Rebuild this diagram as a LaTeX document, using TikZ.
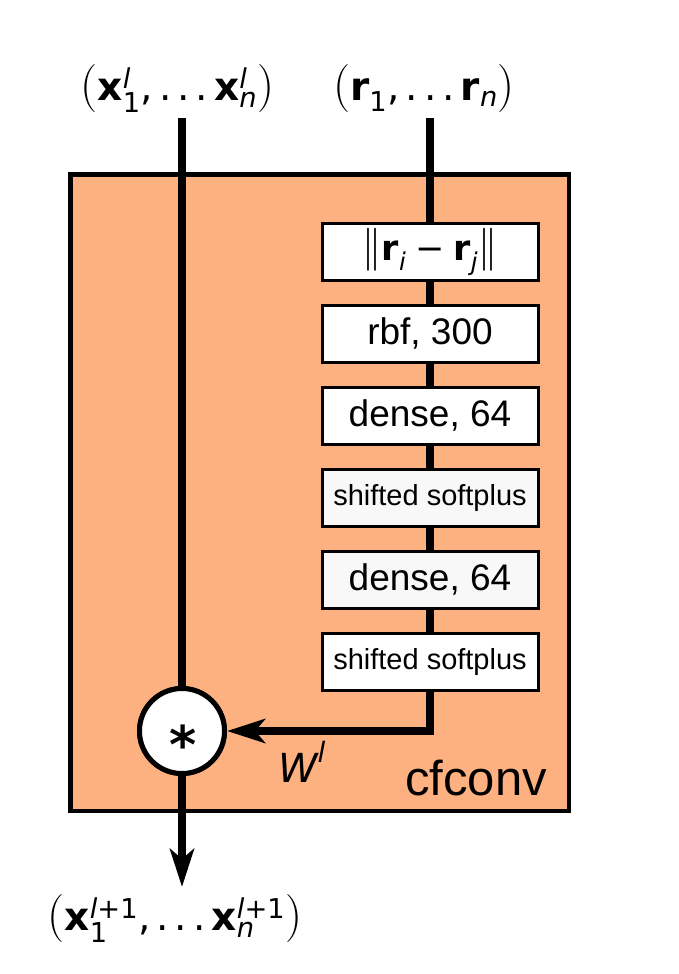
\documentclass[tikz,border=0pt]{standalone}
\usepackage{amsmath}
\usepackage{graphicx}
\usepackage{fontspec}
\setmainfont{DejaVu Sans}
\newfontfamily\arial{Liberation Sans}
\newfontfamily\lmfont{Latin Modern Roman}
\usetikzlibrary{arrows.meta}
\definecolor{cforange}{RGB}{253,176,128}
\definecolor{boxgray}{RGB}{248,248,248}
\newcommand{\T}[1]{\text{#1}}
\newcommand{\bv}[1]{\text{\bfseries #1}}
\newcommand{\iv}[1]{\text{\itshape #1}}
\newcommand{\bigparen}[1]{{\lmfont\fontsize{48}{56}\selectfont #1}}
\newcommand{\dotsep}{\T{,\kern6pt.\kern6pt.\kern6pt.\kern6pt}}
\newcommand{\dbar}{{\lmfont\fontsize{43}{48}\selectfont |\kern-5pt|}}
\newcommand{\normtext}{{\rmfamily\fontsize{35}{40}\selectfont\dbar$\bv{r}_{\iv{i}}\T{\kern9pt−\kern9pt}\bv{r}_{\iv{j}}$\dbar}}
\begin{document}
\begin{tikzpicture}[x=1pt,y=-1pt,
  wire/.style={line width=8pt, line join=miter},
  layerbox/.style={draw=black, line width=3pt, fill=white, minimum width=216pt, minimum height=57pt, inner sep=0pt, font=\arial\fontsize{37}{40}\selectfont},
  smalllayer/.style={layerbox, font=\arial\fontsize{29}{32}\selectfont},
  tip/.style={-{Stealth[length=38pt,width=24pt,inset=10pt]}},
  lbl/.style={inner sep=0pt, font=\fontsize{39}{50}\selectfont},
  mulnode/.style={draw=black, line width=5pt, fill=white, circle, minimum size=85pt, inner sep=0pt}
]
\useasboundingbox (0,0) rectangle (678,974);
% frame
\node[draw=black, line width=4.5pt, fill=cforange, minimum width=498.5pt, minimum height=636.5pt, inner sep=0pt] (frame) at (319.5,492.5) {};
% labels
\node[lbl, anchor=base] (xin) at (177.5,100) {\bigparen{(}$\bv{x}_{\T{1}}^{\iv{l}}\dotsep\bv{x}_{\iv{n}}^{\iv{l}}$\bigparen{)}};
\node[lbl, anchor=base] (rin) at (424,100) {\bigparen{(}$\bv{r}_{\T{1}}\dotsep\bv{r}_{\iv{n}}$\bigparen{)}};
\node[lbl, anchor=base] (xout) at (175,930) {\bigparen{(}$\bv{x}_{\T{1}}^{\iv{l}\T{+1}}\dotsep\bv{x}_{\iv{n}}^{\iv{l}\T{+1}}$\bigparen{)}};
\coordinate (xtop) at (182,118);
\coordinate (rtop) at (430,118);
\coordinate (xend) at (182,887);
% multiply node
\node[mulnode] (mul) at (182,731) {};
% layer boxes
\node[layerbox] (b1) at (430,251.5) {\normtext};
\node[layerbox] (b2) at (430,333.5) {rbf, 300};
\node[layerbox] (b3) at (430,415.5) {dense, 64};
\node[smalllayer, fill=boxgray] (b4) at (430,497.5) {shifted softplus};
\node[layerbox, fill=boxgray] (b5) at (430,579.5) {dense, 64};
\node[smalllayer] (b6) at (430,661.5) {shifted softplus};
% wires
\draw[wire] (xtop) -- (mul.north);
\draw[wire] (rtop) -- (b1.north);
\draw[wire] (b1) -- (b2);
\draw[wire] (b2) -- (b3);
\draw[wire] (b3) -- (b4);
\draw[wire] (b4) -- (b5);
\draw[wire] (b5) -- (b6);
\draw[wire, tip] (b6.south) |- (mul.east);
\draw[wire, tip] (mul.south) -- (xend);
% redraw boxes on top of the wires
\node[layerbox] at (b1) {\normtext};
\node[layerbox] at (b2) {rbf, 300};
\node[layerbox] at (b3) {dense, 64};
\node[smalllayer, fill=boxgray] at (b4) {shifted softplus};
\node[layerbox, fill=boxgray] at (b5) {dense, 64};
\node[smalllayer] at (b6) {shifted softplus};
\node[mulnode] at (mul) {};
\node[inner sep=0pt, anchor=base, font=\bfseries\fontsize{52}{52}\selectfont] (star) at (183,763) {*};
% annotations
\node[inner sep=0pt, font=\fontsize{40}{48}\selectfont] (wl) at (302,762) {$\iv{W}^{\iv{l}}$};
\node[inner sep=0pt, anchor=base east, font=\arial\fontsize{49}{52}\selectfont] (cf) at (547,795) {cfconv};
\end{tikzpicture}
\end{document}
